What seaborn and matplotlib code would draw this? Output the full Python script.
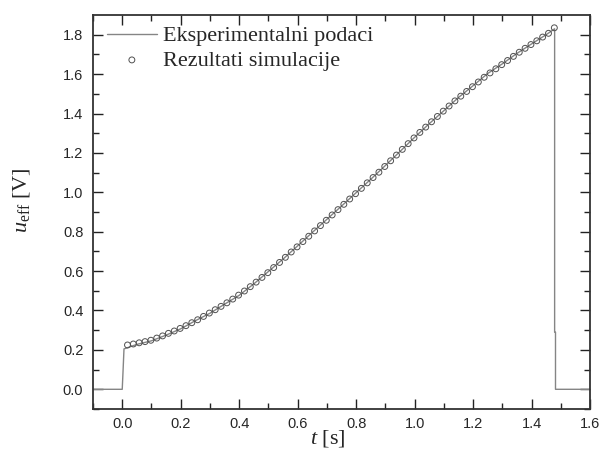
import numpy as np
import pandas as pd
import matplotlib
matplotlib.use("Agg")
import matplotlib.pyplot as plt
import seaborn as sns

# Experimental data (line)
t_exp = [-0.1, 0.0, 0.003, 0.006, 0.05, 0.1, 0.15, 0.2, 0.25, 0.3, 0.35, 0.4, 0.45,
         0.5, 0.55, 0.6, 0.65, 0.7, 0.75, 0.8, 0.85, 0.9, 0.95, 1.0, 1.05,
         1.1, 1.15, 1.2, 1.25, 1.3, 1.35, 1.4, 1.45, 1.479, 1.479, 1.482, 1.482, 1.6]
u_exp = [0.0, 0.0, 0.10, 0.205, 0.228, 0.246, 0.275, 0.307, 0.348, 0.386, 0.432, 0.477, 0.535,
         0.598, 0.661, 0.728, 0.796, 0.863, 0.930, 0.998, 1.066, 1.136, 1.207, 1.279, 1.348,
         1.414, 1.481, 1.541, 1.603, 1.652, 1.705, 1.753, 1.800, 1.830, 0.29, 0.29, 0.0, 0.0]

# Simulation results (circles)
t_sim = [0.018, 0.038, 0.058, 0.078, 0.098, 0.118, 0.138, 0.158, 0.178, 0.198,
         0.218, 0.238, 0.258, 0.278, 0.298, 0.318, 0.338, 0.358, 0.378, 0.398,
         0.418, 0.438, 0.458, 0.478, 0.498, 0.518, 0.538, 0.558, 0.578, 0.598,
         0.618, 0.638, 0.658, 0.678, 0.698, 0.718, 0.738, 0.758, 0.778, 0.798,
         0.818, 0.838, 0.858, 0.878, 0.898, 0.918, 0.938, 0.958, 0.978, 0.998,
         1.018, 1.038, 1.058, 1.078, 1.098, 1.118, 1.138, 1.158, 1.178, 1.198,
         1.218, 1.238, 1.258, 1.278, 1.298, 1.318, 1.338, 1.358, 1.378, 1.398,
         1.418, 1.438, 1.458, 1.478]
u_sim = [0.225, 0.230, 0.236, 0.242, 0.249, 0.260, 0.271, 0.284, 0.296, 0.309,
         0.323, 0.338, 0.353, 0.370, 0.387, 0.404, 0.421, 0.439, 0.458, 0.478,
         0.499, 0.521, 0.544, 0.568, 0.592, 0.618, 0.644, 0.670, 0.697, 0.723,
         0.750, 0.777, 0.804, 0.831, 0.858, 0.885, 0.912, 0.939, 0.966, 0.993,
         1.020, 1.048, 1.075, 1.102, 1.131, 1.160, 1.189, 1.218, 1.247, 1.276,
         1.304, 1.331, 1.358, 1.385, 1.412, 1.438, 1.464, 1.488, 1.512, 1.536,
         1.560, 1.584, 1.606, 1.627, 1.648, 1.669, 1.690, 1.711, 1.731, 1.750,
         1.769, 1.788, 1.807, 1.835]

x_ticks = [0.0, 0.2, 0.4, 0.6, 0.8, 1.0, 1.2, 1.4, 1.6]
y_ticks = [0.0, 0.2, 0.4, 0.6, 0.8, 1.0, 1.2, 1.4, 1.6, 1.8]
label_exp = "Eksperimentalni podaci"
label_sim = "Rezultati simulacije"

sns.set_style("ticks")
plt.rcParams["font.family"] = ["Liberation Sans", "DejaVu Sans"]
plt.rcParams["mathtext.fontset"] = "custom"
plt.rcParams["mathtext.it"] = "Liberation Serif:italic"
plt.rcParams["mathtext.rm"] = "Liberation Serif"
plt.rcParams["mathtext.default"] = "it"

fig = plt.figure(figsize=(6.01, 4.5), dpi=100)
ax = fig.add_axes([93 / 601, 1 - 409 / 450, (590 - 93) / 601, (409 - 15) / 450])

df_exp = pd.DataFrame({"t": t_exp, "u": u_exp})
df_sim = pd.DataFrame({"t": t_sim, "u": u_sim})

sns.lineplot(data=df_exp, x="t", y="u", ax=ax, color="#858585", linewidth=1.0,
             sort=False, estimator=None, label=label_exp)
sns.scatterplot(data=df_sim, x="t", y="u", ax=ax, marker="o", s=18,
                facecolor="none", edgecolor="#505050", linewidth=0.7,
                label=label_sim, zorder=3)

ax.set_xlim(-0.1, 1.6)
ax.set_ylim(-0.1, 1.9)
ax.set_xticks(x_ticks)
ax.set_yticks(y_ticks)
ax.set_xticks(np.arange(-0.1, 1.61, 0.1), minor=True)
ax.set_yticks(np.arange(-0.1, 1.86, 0.1), minor=True)
ax.set_xticklabels([f"{v:.1f}" for v in x_ticks])
ax.set_yticklabels([f"{v:.1f}" for v in y_ticks])
ax.tick_params(which="both", direction="in", top=True, right=True,
               labeltop=False, labelright=False, color="#222222")
ax.tick_params(which="major", length=7, width=1.0, labelsize=10.5)
ax.tick_params(axis="y", which="major", pad=7)
ax.tick_params(axis="x", which="major", pad=6)
ax.tick_params(which="minor", length=4, width=1.0)
for sp in ax.spines.values():
    sp.set_linewidth(1.3)
    sp.set_color("#333333")

serif = ["Liberation Serif", "DejaVu Serif"]
ax.set_xlabel(r"$t$ [s]", fontsize=16, family=serif)
ax.set_ylabel(r"$u_{\mathrm{eff}}$ [V]", fontsize=16, family=serif)
ax.xaxis.set_label_coords(0.473, -0.047)
ax.yaxis.set_label_coords(-0.123, 0.53)

leg = ax.legend(loc="upper left", frameon=False, prop={"family": serif, "size": 16},
                handlelength=2.25, handletextpad=0.27, labelspacing=0.17,
                borderaxespad=0.0, bbox_to_anchor=(0.01, 0.995))

fig.savefig("out.png", dpi=100)
